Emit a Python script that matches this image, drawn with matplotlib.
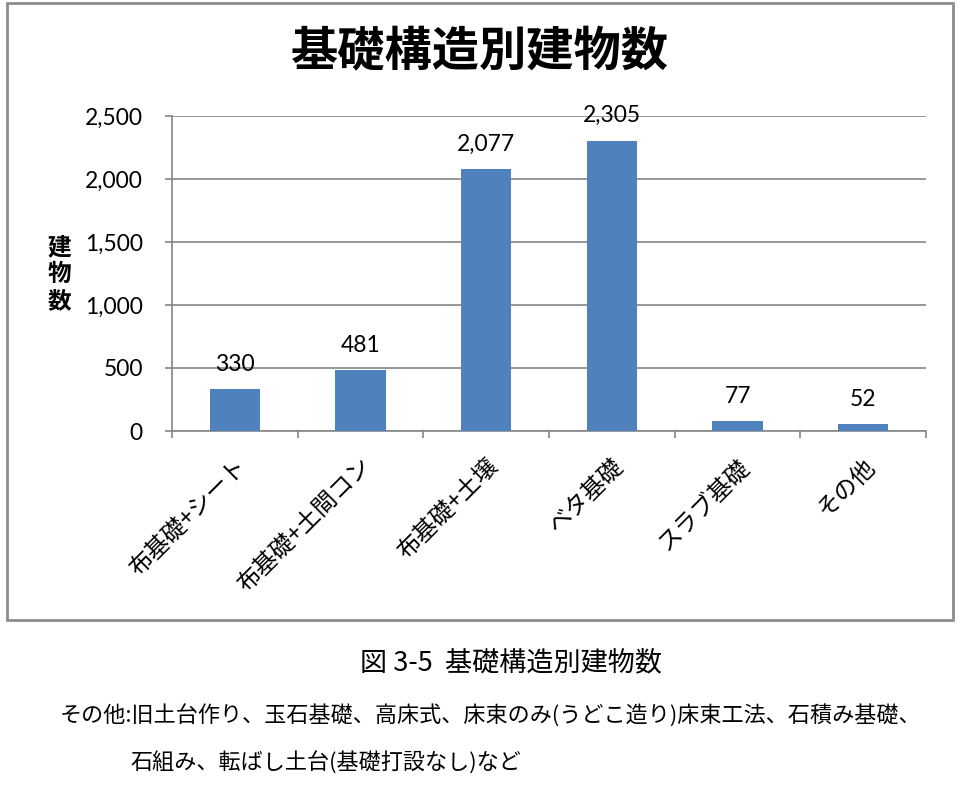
import matplotlib.pyplot as plt
from matplotlib.patches import Rectangle
import numpy as np

# data
categories = ['布基礎+シート', '布基礎+土間コン', '布基礎+土壌', 'ベタ基礎', 'スラブ基礎', 'その他']
counts = [330, 481, 2077, 2305, 77, 52]
yticks = [0, 500, 1000, 1500, 2000, 2500]

title = '基礎構造別建物数'
ylabel = '建物数'
caption = '図 3-5  基礎構造別建物数'
note1 = 'その他:旧土台作り、玉石基礎、高床式、床束のみ(うどこ造り)床束工法、石積み基礎、'
note2 = '石組み、転ばし土台(基礎打設なし)など'

JP = ['Noto Sans CJK JP', 'DejaVu Sans']
NUM = ['Lato', 'DejaVu Sans']
W, H = 967, 790

fig = plt.figure(figsize=(W / 100, H / 100), dpi=100)
fig.patch.set_facecolor('white')

# chart frame
fig.patches.append(Rectangle((7 / W, 1 - 620 / H), (953 - 7) / W, (620 - 3) / H,
                             transform=fig.transFigure, fill=False,
                             edgecolor='#8c8c8c', linewidth=2))

ax = fig.add_axes([172 / W, 1 - 431 / H, (926 - 172) / W, (431 - 116) / H])
x = np.arange(len(categories))
ax.bar(x, counts, width=0.4, color='#4f81bd', zorder=3)

ax.set_xlim(-0.5, len(categories) - 0.5)
ax.set_ylim(0, 2500)
ax.set_yticks(yticks)
ax.set_yticklabels([f'{v:,}' for v in yticks], fontsize=16.5, family=NUM)
ax.yaxis.grid(True, color='#868686', linewidth=1.2, zorder=0)
ax.tick_params(axis='y', length=5, width=1.2, color='#868686', pad=16)

ax.set_xticks(x)
ax.set_xticks(np.arange(len(categories) + 1) - 0.5, minor=True)
ax.tick_params(axis='x', which='major', length=0, pad=17)
ax.tick_params(axis='x', which='minor', length=5, width=1.2, color='#868686')
ax.set_xticklabels(categories, fontsize=17, family=JP, rotation=45,
                   ha='right', va='top', rotation_mode='anchor')

for s in ['top', 'right']:
    ax.spines[s].set_visible(False)
for s in ['left', 'bottom']:
    ax.spines[s].set_color('#868686')
    ax.spines[s].set_linewidth(1.2)

for xi, v in zip(x, counts):
    ax.annotate(f'{v:,}', (xi, v), xytext=(0, 18), textcoords='offset points',
                ha='center', va='center', fontsize=16.5, family=NUM)

fig.text(480 / W, 1 - 52 / H, title, ha='center', va='center',
         fontsize=34, fontweight='bold', family=JP)
fig.text(59 / W, 1 - 274 / H, '\n'.join(ylabel), ha='center', va='center',
         fontsize=17, fontweight='bold', family=JP, linespacing=1.15)

fig.text(511 / W, 1 - 663 / H, caption, ha='center', va='center',
         fontsize=19.5, family=JP)
fig.text(60 / W, 1 - 716 / H, note1, ha='left', va='center',
         fontsize=15.9, family=JP)
fig.text(130 / W, 1 - 763 / H, note2, ha='left', va='center',
         fontsize=15.9, family=JP)

fig.savefig('out.png', dpi=100)
